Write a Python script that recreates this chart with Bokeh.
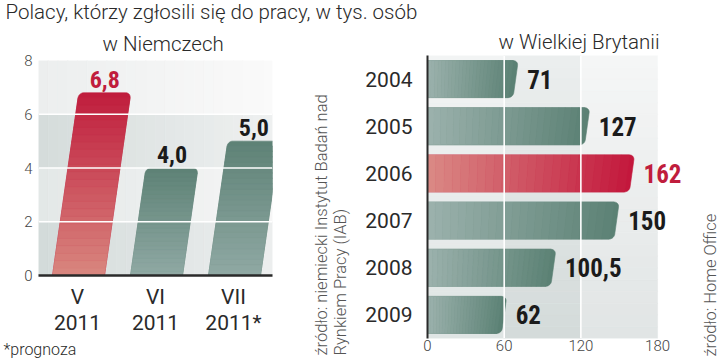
import math
from bokeh.plotting import figure
from bokeh.models import Range1d, FixedTicker, Span, Label, LabelSet, ColumnDataSource, Title
from bokeh.layouts import column, row
from bokeh.core.properties import value
from bokeh.embed import file_html
from bokeh.resources import INLINE

# ---------------- data ----------------
de_categories = ["V\n2011", "VI\n2011", "VII\n2011*"]
de_values = [6.8, 4.0, 5.0]
de_highlight = [True, False, False]
de_yticks = [0, 2, 4, 6, 8]

uk_years = ["2004", "2005", "2006", "2007", "2008", "2009"]
uk_values = [71, 127, 162, 150, 100.5, 62]
uk_highlight = [False, False, True, False, False, False]
uk_xticks = [0, 60, 120, 180]

title_main = "Polacy, którzy zgłosili się do pracy, w tys. osób"
title_de = "w Niemczech"
title_uk = "w Wielkiej Brytanii"
note_de = "*prognoza"
source_de = "źródło: niemiecki Instytut Badań nad\nRynkiem Pracy (IAB)"
source_uk = "źródło: Home Office"

# ---------------- style ----------------
LIGHT = "'Roboto Light', Roboto, sans-serif"
REG = "Roboto, sans-serif"
BOLDC = "'Roboto Condensed', 'Liberation Sans Narrow', 'DejaVu Sans Condensed', sans-serif"
TXT = "#2a2a2a"
GRAY = "#555555"
RED_LBL = "#c01d3d"
DARK_LBL = "#1b1b1b"

RED_TOP, RED_BOTTOM = "#c01d3d", "#d8877f"
GRN_TOP, GRN_BOTTOM = "#5e8276", "#90a9a4"
RED_RIGHT, RED_LEFT = "#c3173c", "#da8a85"
GRN_RIGHT, GRN_LEFT = "#5b8174", "#9cb2ad"

SLOPE_PX = 0.14   # italic slant of bars (px x per px y)
NS = 24           # gradient steps


def hex2rgb(h):
    return tuple(int(h[i:i + 2], 16) for i in (1, 3, 5))


def mix(a, b, t):
    ra, rb = hex2rgb(a), hex2rgb(b)
    return "#%02x%02x%02x" % tuple(int(round(x + (y - x) * t)) for x, y in zip(ra, rb))


def base_fig(w, h, xr, yr, lb, rb, tb, bb, **kw):
    p = figure(width=w, height=h, x_range=xr, y_range=yr, output_backend="svg",
               toolbar_location=None, tools="", **kw)
    p.min_border_left, p.min_border_right = lb, rb
    p.min_border_top, p.min_border_bottom = tb, bb
    p.frame_align = False
    p.outline_line_color = None
    p.background_fill_color = "white"
    p.border_fill_color = "white"
    p.grid.visible = False
    return p


def style_title(t, text, size, font=LIGHT, color=TXT):
    t.text = text
    t.text_font = font
    t.text_font_size = size
    t.text_font_style = "normal"
    t.text_color = color


# ---------------- top title ----------------
pt = base_fig(720, 25, Range1d(0, 720), Range1d(0, 25), 0, 0, 0, 0,
              x_axis_type=None, y_axis_type=None)
pt.add_layout(Label(x=5, y=13.5, text=title_main, text_font=LIGHT, text_font_size="20.5px",
                    text_color=TXT, text_baseline="middle", text_align="left"))

# ---------------- left chart (Germany) ----------------
W_L, H_L = 296, 334
LB, RB, TB, BB = 38, 24, 34, 79
FW_L, FH_L = W_L - LB - RB, H_L - TB - BB
n = len(de_values)
xr = Range1d(0.5, n + 0.5)
yr = Range1d(de_yticks[0], de_yticks[-1])
pl = base_fig(W_L, H_L, xr, yr, LB, RB, TB, BB)
pxx = (xr.end - xr.start) / FW_L
pxy = (yr.end - yr.start) / FH_L

band_cols = [("#d3dbda", "#eceeee"), ("#e3e8e7", "#f6f6f6"),
             ("#d5dcdb", "#eef0f0"), ("#eceeee", "#fafafa")]
L, R, B, T, C = [], [], [], [], []
for bi, (y0, y1) in enumerate(zip(de_yticks[:-1], de_yticks[1:])):
    ca, cb = band_cols[bi % len(band_cols)]
    for j in range(NS):
        L.append(xr.start + (xr.end - xr.start) * j / NS)
        R.append(xr.start + (xr.end - xr.start) * (j + 1) / NS)
        B.append(y0)
        T.append(y1)
        C.append(mix(ca, cb, j / (NS - 1)))
pl.quad(left=L, right=R, bottom=B, top=T, fill_color=C, line_color=C, line_width=0.6)

k = SLOPE_PX * pxx / pxy
half = 26 * pxx
shift0 = 1 * pxx
rx, ry = 5 * pxx, 5 * pxy

pxs, pys, pcs = [], [], []
for i, v in enumerate(de_values):
    c = i + 1 + shift0
    top_c, bot_c = (RED_TOP, RED_BOTTOM) if de_highlight[i] else (GRN_TOP, GRN_BOTTOM)
    pts = [(c - half, 0), (c + half, 0)]
    for t in range(0, 91, 10):
        a = math.radians(t)
        pts.append((c + half - rx + rx * math.cos(a), v - ry + ry * math.sin(a)))
    for t in range(90, 181, 10):
        a = math.radians(t)
        pts.append((c - half + rx + rx * math.cos(a), v - ry + ry * math.sin(a)))
    pxs.append([x + k * y for x, y in pts])
    pys.append([y for x, y in pts])
    pcs.append(top_c)
    ytop = v - ry
    for j in range(NS):
        y0 = ytop * j / NS
        y1 = ytop * (j + 1) / NS
        col = mix(bot_c, top_c, ((y0 + y1) / 2) / v)
        pxs.append([c - half + k * y0, c + half + k * y0, c + half + k * y1, c - half + k * y1])
        pys.append([y0, y0, y1, y1])
        pcs.append(col)
pl.patches(xs=pxs, ys=pys, fill_color=pcs, line_color=pcs, line_width=0.6)

for t in de_yticks[1:-1]:
    pl.add_layout(Span(location=t, dimension="width", line_color="white", line_width=1.6))

src_l = ColumnDataSource(dict(
    x=[i + 1 + shift0 + k * v for i, v in enumerate(de_values)],
    y=de_values,
    text=[("%.1f" % v).replace(".", ",") for v in de_values],
    color=[RED_LBL if h else DARK_LBL for h in de_highlight]))
pl.add_layout(LabelSet(x="x", y="y", text="text", source=src_l, text_color="color",
                       text_font=value(BOLDC), text_font_style="bold", text_font_size="24px",
                       text_align="center", text_baseline="bottom", y_offset=5))

pl.xaxis.ticker = FixedTicker(ticks=list(range(1, n + 1)))
pl.xaxis.major_label_overrides = {i + 1: lab for i, lab in enumerate(de_categories)}
pl.xaxis.axis_line_color = "#2a2a2a"
pl.xaxis.axis_line_width = 2.5
pl.xaxis.major_tick_in = 0
pl.xaxis.major_tick_out = 0
pl.xaxis.minor_tick_line_color = None
pl.xaxis.major_label_standoff = 9
pl.xaxis.major_label_text_font = REG
pl.xaxis.major_label_text_font_size = "21px"
pl.xaxis.major_label_text_color = TXT
pl.xaxis.major_label_text_line_height = 1.1

pl.yaxis.ticker = FixedTicker(ticks=de_yticks)
pl.yaxis.axis_line_color = None
pl.yaxis.major_tick_in = 0
pl.yaxis.major_tick_out = 0
pl.yaxis.minor_tick_line_color = None
pl.yaxis.major_label_standoff = 6
pl.yaxis.major_label_text_font = LIGHT
pl.yaxis.major_label_text_font_size = "15px"
pl.yaxis.major_label_text_color = "#444444"

style_title(pl.title, title_de, "20.5px")
pl.title.align = "left"
pl.title.offset = 64
pl.title.standoff = 9

note = Title(align="left", offset=-35, standoff=1)
style_title(note, note_de, "16px")
pl.add_layout(note, "below")

# ---------------- right chart (UK) ----------------
W_R, H_R = 404, 334
LB2, RB2, TB2, BB2 = 130, 11, 30, 21
FW_R, FH_R = W_R - LB2 - RB2, H_R - TB2 - BB2
m = len(uk_years)
xr2 = Range1d(0, 205)
yr2 = Range1d(0.5, m + 0.5)
pr = base_fig(W_R, H_R, xr2, yr2, LB2, RB2, TB2, BB2)
ppx = (xr2.end - xr2.start) / FW_R
ppy = (yr2.end - yr2.start) / FH_R
pos = [m - i for i in range(m)]

band_cols2 = [("#dfe5e4", "#f2f4f4"), ("#d4dbda", "#ebeeee"), ("#e1e5e5", "#f5f6f6")]
L, R, B, T, C = [], [], [], [], []
for bi, (x0, x1) in enumerate(zip(uk_xticks[:-1], uk_xticks[1:])):
    ca, cb = band_cols2[bi % len(band_cols2)]
    for j in range(NS):
        B.append(yr2.start + (yr2.end - yr2.start) * j / NS)
        T.append(yr2.start + (yr2.end - yr2.start) * (j + 1) / NS)
        L.append(x0)
        R.append(x1)
        C.append(mix(ca, cb, j / (NS - 1)))
pr.quad(left=L, right=R, bottom=B, top=T, fill_color=C, line_color=C, line_width=0.6)

k2 = SLOPE_PX * ppx / ppy
hh = 18.5 * ppy
rx2, ry2 = 5 * ppx, 5 * ppy

pxs, pys, pcs = [], [], []
for i, v in enumerate(uk_values):
    c = pos[i]
    left_c, right_c = (RED_LEFT, RED_RIGHT) if uk_highlight[i] else (GRN_LEFT, GRN_RIGHT)
    ytop = c + hh

    def tr(x, y, v=v, ytop=ytop):
        return x + k2 * (y - ytop) * (x / v), y

    pts = [(0, c - hh)]
    for t in range(-90, 1, 10):
        a = math.radians(t)
        pts.append((v - rx2 + rx2 * math.cos(a), c - hh + ry2 + ry2 * math.sin(a)))
    for t in range(0, 91, 10):
        a = math.radians(t)
        pts.append((v - rx2 + rx2 * math.cos(a), c + hh - ry2 + ry2 * math.sin(a)))
    pts.append((0, c + hh))
    tp = [tr(x, y) for x, y in pts]
    pxs.append([p[0] for p in tp])
    pys.append([p[1] for p in tp])
    pcs.append(right_c)
    xend = v - rx2
    for j in range(NS):
        x0 = xend * j / NS
        x1 = xend * (j + 1) / NS
        col = mix(left_c, right_c, ((x0 + x1) / 2) / v)
        q = [tr(x0, c - hh), tr(x1, c - hh), tr(x1, c + hh), tr(x0, c + hh)]
        pxs.append([p[0] for p in q])
        pys.append([p[1] for p in q])
        pcs.append(col)
pr.patches(xs=pxs, ys=pys, fill_color=pcs, line_color=pcs, line_width=0.6)

for t in uk_xticks[1:-1]:
    pr.add_layout(Span(location=t, dimension="height", line_color="white", line_width=1.6))

src_r = ColumnDataSource(dict(
    x=uk_values, y=pos,
    text=[("%g" % v).replace(".", ",") for v in uk_values],
    color=[RED_LBL if h else DARK_LBL for h in uk_highlight]))
pr.add_layout(LabelSet(x="x", y="y", text="text", source=src_r, text_color="color",
                       text_font=value(BOLDC), text_font_style="bold", text_font_size="25px",
                       text_align="left", text_baseline="middle", x_offset=9))

pr.yaxis.ticker = FixedTicker(ticks=pos)
pr.yaxis.major_label_overrides = {p: y for p, y in zip(pos, uk_years)}
pr.yaxis.axis_line_color = "#2a2a2a"
pr.yaxis.axis_line_width = 2
pr.yaxis.major_tick_in = 0
pr.yaxis.major_tick_out = 0
pr.yaxis.minor_tick_line_color = None
pr.yaxis.major_label_standoff = 15
pr.yaxis.major_label_text_font = REG
pr.yaxis.major_label_text_font_size = "21px"
pr.yaxis.major_label_text_color = TXT

pr.xaxis.ticker = FixedTicker(ticks=uk_xticks)
pr.xaxis.axis_line_color = None
pr.xaxis.major_tick_in = 0
pr.xaxis.major_tick_out = 0
pr.xaxis.minor_tick_line_color = None
pr.xaxis.major_label_standoff = 1
pr.xaxis.major_label_text_font = LIGHT
pr.xaxis.major_label_text_font_size = "15px"
pr.xaxis.major_label_text_color = "#444444"

style_title(pr.title, title_uk, "20.5px")
pr.title.align = "left"
pr.title.offset = 71
pr.title.standoff = 3

src_title = Title(align="left", offset=-17, standoff=26, text_line_height=1.0)
style_title(src_title, source_de, "16.5px", color=GRAY)
pr.add_layout(src_title, "left")

# ---------------- far right: second source ----------------
p3 = base_fig(20, 334, Range1d(0, 1), Range1d(0, 1), 18, 1, 30, 21,
              x_axis_type=None, y_axis_type=None)
p3.title.text = ""
ho_title = Title(align="left", offset=-18, standoff=0)
style_title(ho_title, source_uk, "16.5px", color=GRAY)
p3.add_layout(ho_title, "left")

layout = column(pt, row(pl, pr, p3))
open("out.html", "w").write(file_html(layout, INLINE))
